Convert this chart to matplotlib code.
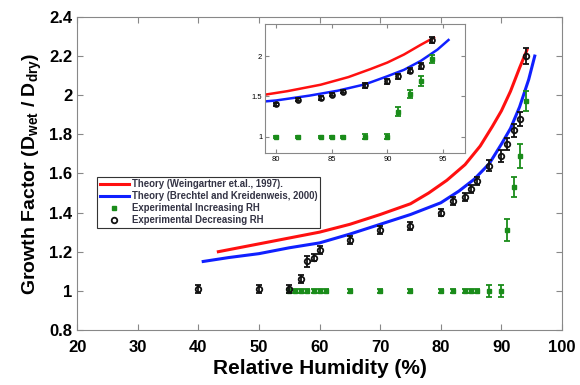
import matplotlib
matplotlib.use('Agg')
import matplotlib.pyplot as plt
from matplotlib.lines import Line2D

plt.rcParams['font.family'] = ['Liberation Sans', 'DejaVu Sans']
plt.rcParams['mathtext.fontset'] = 'custom'
plt.rcParams['mathtext.rm'] = 'Liberation Sans:bold'
plt.rcParams['mathtext.bf'] = 'Liberation Sans:bold'
plt.rcParams['mathtext.it'] = 'Liberation Sans:bold'

# Theory curves
rh_weing = [43.3, 50, 55, 60, 65, 70, 75, 78, 81, 84, 86.5, 88.5, 90, 91.5, 93, 94.2]
gf_weing = [1.20, 1.24, 1.27, 1.30, 1.34, 1.39, 1.445, 1.50, 1.565, 1.645, 1.74, 1.84, 1.92, 2.02, 2.14, 2.23]
rh_brech = [40.8, 45, 50, 55, 60, 65, 70, 75, 80, 83, 85.5, 88, 90, 91.5, 93, 94.5, 95.5]
gf_brech = [1.15, 1.17, 1.19, 1.22, 1.245, 1.29, 1.34, 1.39, 1.45, 1.51, 1.57, 1.65, 1.75, 1.83, 1.94, 2.08, 2.20]

# Experimental, increasing RH (green)
rh_inc = [55, 56, 57, 58, 59, 60, 61, 65, 70, 75, 80, 82, 84, 85, 86, 88, 90, 91, 92, 93, 94]
gf_inc = [1.0, 1.0, 1.0, 1.0, 1.0, 1.0, 1.0, 1.0, 1.0, 1.0, 1.0, 1.0, 1.0, 1.0, 1.0, 1.0, 1.0, 1.31, 1.53, 1.69, 1.97]
err_inc = [0.01, 0.01, 0.01, 0.01, 0.01, 0.01, 0.01, 0.01, 0.01, 0.01, 0.01, 0.01, 0.01, 0.01, 0.01, 0.03, 0.03, 0.055, 0.05, 0.06, 0.05]

# Experimental, decreasing RH (black)
rh_dec = [40, 50, 55, 57, 58, 59, 60, 65, 70, 75, 80, 82, 84, 85, 86, 88, 90, 91, 92, 93, 94]
gf_dec = [1.01, 1.01, 1.01, 1.06, 1.15, 1.17, 1.21, 1.26, 1.31, 1.33, 1.40, 1.46, 1.48, 1.52, 1.56, 1.64, 1.69, 1.75, 1.82, 1.88, 2.20]
err_dec = [0.02, 0.02, 0.02, 0.02, 0.03, 0.02, 0.02, 0.02, 0.02, 0.02, 0.02, 0.02, 0.02, 0.02, 0.02, 0.03, 0.03, 0.03, 0.035, 0.035, 0.04]

xticks = [20, 30, 40, 50, 60, 70, 80, 90, 100]
yticks = [0.8, 1.0, 1.2, 1.4, 1.6, 1.8, 2.0, 2.2, 2.4]
ytick_labels = ['0.8', '1', '1.2', '1.4', '1.6', '1.8', '2', '2.2', '2.4']
inset_xticks = [80, 85, 90, 95]
inset_yticks = [1.0, 1.5, 2.0]
inset_ytick_labels = ['1', '1.5', '2']

labels = ['Theory (Weingartner et.al., 1997).', 'Theory (Brechtel and Kreidenweis, 2000)',
          'Experimental Increasing RH', 'Experimental Decreasing RH']

C_RED = '#ff1010'
C_BLUE = '#1020ff'
C_GREEN = '#1a8c1a'
C_BLACK = '#111111'
C_SPINE = '#888888'


def draw(ax, lw=2.2, ms=4, cap=2.5):
    ax.plot(rh_weing, gf_weing, color=C_RED, lw=lw, zorder=2)
    ax.plot(rh_brech, gf_brech, color=C_BLUE, lw=lw, zorder=2)
    ax.errorbar(rh_inc, gf_inc, yerr=err_inc, fmt='s', color=C_GREEN, ms=ms * 0.75, mec=C_GREEN,
                elinewidth=1.3, capsize=cap, capthick=1.3, zorder=3)
    ax.errorbar(rh_dec, gf_dec, yerr=err_dec, fmt='o', color=C_BLACK, ms=ms, mfc='none', mec=C_BLACK,
                mew=1.3, elinewidth=1.3, capsize=cap, capthick=1.3, zorder=4)


fig = plt.figure(figsize=(5.8, 3.85), dpi=100)
ax = fig.add_axes([0.133, 0.143, 0.836, 0.813])
draw(ax)

ax.set_xlim(20, 100)
ax.set_ylim(0.8, 2.4)
ax.set_xticks(xticks)
ax.set_yticks(yticks)
ax.set_yticklabels(ytick_labels)
ax.tick_params(direction='in', top=True, right=True, labelsize=12, length=4, color=C_SPINE)
ax.tick_params(axis='x', pad=7)
for lab in ax.get_xticklabels() + ax.get_yticklabels():
    lab.set_fontweight('bold')
for sp in ax.spines.values():
    sp.set_color(C_SPINE)
ax.set_xlabel('Relative Humidity (%)', fontsize=15, fontweight='bold', labelpad=3)
ax.set_ylabel(r'Growth Factor (D$_{wet}$ / D$_{dry}$)', fontsize=14, fontweight='bold', labelpad=4)

handles = [Line2D([], [], color=C_RED, lw=2.2),
           Line2D([], [], color=C_BLUE, lw=2.2),
           Line2D([], [], ls='none', marker='s', ms=3, color=C_GREEN),
           Line2D([], [], ls='none', marker='o', ms=4, mfc='none', mec=C_BLACK, mew=1.3)]
leg = ax.legend(handles, labels, loc='upper left', bbox_to_anchor=(0.041, 0.49), borderaxespad=0,
                prop={'size': 6.9, 'weight': 'bold'}, fancybox=False, handlelength=3.0,
                handletextpad=0.3, labelspacing=0.2, borderpad=0.3, framealpha=1)
leg.get_frame().set_edgecolor('#333333')
leg.get_frame().set_linewidth(0.8)
for t in leg.get_texts():
    t.set_color('#333344')

# Inset zoom
axi = fig.add_axes([0.457, 0.603, 0.345, 0.335])
draw(axi, lw=1.8, ms=3.5, cap=2.5)
axi.set_xlim(79, 97)
axi.set_ylim(0.8, 2.4)
axi.set_xticks(inset_xticks)
axi.set_yticks(inset_yticks)
axi.set_yticklabels(inset_ytick_labels)
axi.tick_params(direction='in', top=True, right=True, labelsize=5.5, length=3, color=C_SPINE, pad=2)
for sp in axi.spines.values():
    sp.set_color(C_SPINE)

fig.savefig('out.png', dpi=100)
